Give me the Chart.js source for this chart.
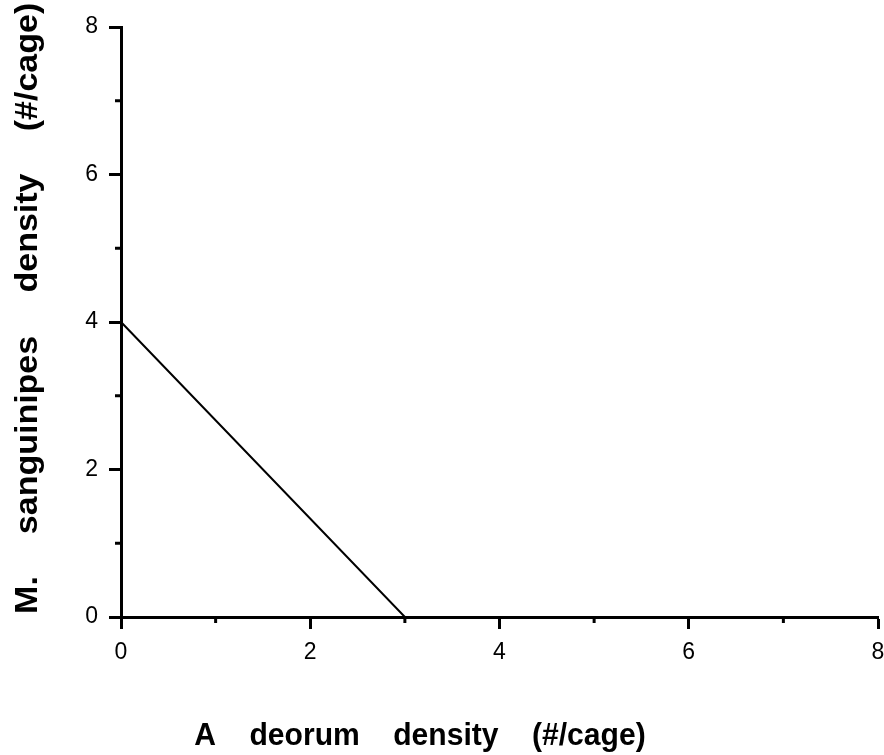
<!DOCTYPE html>
<html>
<head>
<meta charset="utf-8">
<script src="https://cdn.jsdelivr.net/npm/chart.js@4"></script>
<style>
  html, body { margin: 0; padding: 0; background: #fff; }
  #wrap { width: 884px; height: 755px; }
</style>
</head>
<body>
<div id="wrap"><canvas id="c"></canvas></div>
<script>
// isocline
const xValues = [0, 3, 8];
const yValues = [4, 0, 0];

const xRange = [0, 8];
const yRange = [0, 8];
const labelledTicks = [0, 2, 4, 6, 8];
const minorTicks = [1, 3, 5, 7];

const xTitle = 'A    deorum    density    (#/cage)';
// the y title is set word by word, widely spaced as in the original
const yTitleWords = ['M.', 'sanguinipes', 'density', '(#/cage)'];
const yTitleCentres = [595, 435, 233, 67];

const points = xValues.map((x, i) => ({ x: x, y: yValues[i] }));

const font = "'Liberation Sans', Arial, sans-serif";

// short unlabelled ticks plus the two axis titles
const extras = {
    id: 'extras',
    afterDraw(chart) {
        const ctx = chart.ctx;
        const xs = chart.scales.x;
        const ys = chart.scales.y;
        const area = chart.chartArea;
        ctx.save();
        ctx.strokeStyle = '#000';
        ctx.lineWidth = 3;
        minorTicks.forEach(v => {
            const px = xs.getPixelForValue(v);
            ctx.beginPath();
            ctx.moveTo(px, area.bottom);
            ctx.lineTo(px, area.bottom + 6);
            ctx.stroke();
            const py = ys.getPixelForValue(v);
            ctx.beginPath();
            ctx.moveTo(area.left, py);
            ctx.lineTo(area.left - 6, py);
            ctx.stroke();
        });
        ctx.fillStyle = '#000';
        ctx.textAlign = 'center';
        ctx.textBaseline = 'alphabetic';

        // titles look slightly squeezed sideways in the original
        ctx.save();
        ctx.font = 'bold 32px ' + font;
        ctx.translate(420, 745);
        ctx.scale(0.94, 1);
        ctx.fillText(xTitle, 0, 0);
        ctx.restore();

        ctx.font = 'bold 34px ' + font;
        yTitleWords.forEach((w, i) => {
            ctx.save();
            ctx.translate(37, yTitleCentres[i]);
            ctx.rotate(-Math.PI / 2);
            ctx.scale(1, 0.94);
            ctx.fillText(w, 0, 0);
            ctx.restore();
        });
        ctx.restore();
    }
};

const axisCommon = {
    type: 'linear',
    border: { display: true, color: '#000', width: 3 },
    grid: {
        display: true,
        drawOnChartArea: false,
        drawTicks: true,
        tickLength: 12,
        tickWidth: 3,
        tickColor: c => labelledTicks.includes(c.tick.value) ? '#000' : 'rgba(0,0,0,0)',
    },
};

new Chart(document.getElementById('c'), {
    type: 'scatter',
    data: {
        datasets: [{
            data: points,
            showLine: true,
            borderColor: '#000',
            borderWidth: 2,
            pointRadius: 0,
            fill: false,
        }],
    },
    options: {
        responsive: true,
        maintainAspectRatio: false,
        animation: false,
        layout: { padding: { left: 0, top: 27, right: 6, bottom: 0 } },
        plugins: {
            legend: { display: false },
            tooltip: { enabled: false },
        },
        scales: {
            x: Object.assign({}, axisCommon, {
                min: xRange[0], max: xRange[1],
                afterFit: s => { s.height = 138; s.paddingLeft = 0; s.paddingRight = 0; },
                ticks: {
                    stepSize: 1, autoSkip: false, maxRotation: 0, padding: 10,
                    color: '#000', font: { family: font, size: 23 },
                    callback: v => labelledTicks.includes(v) ? String(v) : '',
                },
            }),
            y: Object.assign({}, axisCommon, {
                min: yRange[0], max: yRange[1],
                afterFit: s => { s.width = 121; s.paddingTop = 0; s.paddingBottom = 0; },
                ticks: {
                    stepSize: 1, autoSkip: false, padding: 11,
                    color: '#000', font: { family: font, size: 23 },
                    callback: v => labelledTicks.includes(v) ? String(v) : '',
                },
            }),
        },
    },
    plugins: [extras],
});
</script>
</body>
</html>
